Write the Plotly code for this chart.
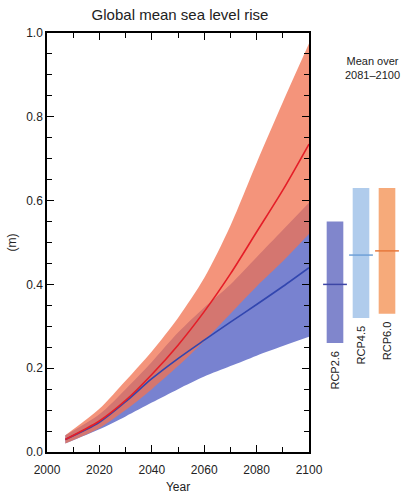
import plotly.graph_objects as go

years = [2007, 2020, 2030, 2040, 2050, 2060, 2070, 2080, 2090, 2100]
rcp85_mean = [0.03, 0.074, 0.123, 0.185, 0.255, 0.335, 0.425, 0.525, 0.625, 0.735]
rcp85_upper = [0.04, 0.103, 0.17, 0.24, 0.32, 0.415, 0.54, 0.69, 0.835, 0.975]
rcp85_lower = [0.02, 0.057, 0.10, 0.15, 0.205, 0.265, 0.33, 0.395, 0.455, 0.52]
rcp26_mean = [0.03, 0.071, 0.12, 0.175, 0.223, 0.267, 0.31, 0.352, 0.395, 0.44]
rcp26_upper = [0.04, 0.09, 0.15, 0.215, 0.285, 0.345, 0.40, 0.465, 0.53, 0.595]
rcp26_lower = [0.02, 0.054, 0.085, 0.118, 0.15, 0.18, 0.205, 0.23, 0.253, 0.275]

bar_labels = ["RCP2.6", "RCP4.5", "RCP6.0"]
bar_mean = [0.40, 0.47, 0.48]
bar_low = [0.26, 0.32, 0.33]
bar_high = [0.55, 0.63, 0.63]
bar_colors = ["rgb(128,134,204)", "rgb(176,204,236)", "rgb(246,170,122)"]
bar_line_colors = ["rgb(60,70,165)", "rgb(110,160,215)", "rgb(230,120,60)"]

FONT = "Liberation Sans, Arial, sans-serif"
TXT = "#222"

W, H = 403, 496
L, R, T, B = 47, 0, 33, 44
pw = W - L - R
ph = H - T - B

def px_x(px):
    return (px - L) / pw

def px_y(py):
    return (H - B - py) / ph

SPL = dict(shape="spline", smoothing=0.8)

fig = go.Figure()

# RCP2.6 band
fig.add_trace(go.Scatter(x=years, y=rcp26_lower, mode="lines", line=dict(width=0, **SPL),
                         showlegend=False, hoverinfo="skip"))
fig.add_trace(go.Scatter(x=years, y=rcp26_upper, mode="lines", line=dict(width=0, **SPL),
                         fill="tonexty", fillcolor="rgb(120,130,208)",
                         showlegend=False, hoverinfo="skip"))
# RCP8.5 band
fig.add_trace(go.Scatter(x=years, y=rcp85_lower, mode="lines", line=dict(width=0, **SPL),
                         showlegend=False, hoverinfo="skip"))
fig.add_trace(go.Scatter(x=years, y=rcp85_upper, mode="lines", line=dict(width=0, **SPL),
                         fill="tonexty", fillcolor="rgba(240,115,82,0.76)",
                         showlegend=False, hoverinfo="skip"))
# mean lines
fig.add_trace(go.Scatter(x=years, y=rcp26_mean, mode="lines",
                         line=dict(color="rgb(50,70,175)", width=1.6, **SPL),
                         showlegend=False))
fig.add_trace(go.Scatter(x=years, y=rcp85_mean, mode="lines",
                         line=dict(color="rgb(228,30,40)", width=1.6, **SPL),
                         showlegend=False))

# right-hand bars (mean over 2081-2100)
xi = list(range(len(bar_labels)))
fig.add_trace(go.Bar(x=xi, y=[h - l for h, l in zip(bar_high, bar_low)], base=bar_low,
                     marker=dict(color=bar_colors, line=dict(width=0)), width=0.64,
                     xaxis="x2", yaxis="y", showlegend=False))
fig.add_trace(go.Scatter(x=xi, y=bar_mean, mode="markers", xaxis="x2", yaxis="y",
                         marker=dict(symbol="line-ew-open", size=17, color=bar_line_colors,
                                     line=dict(color=bar_line_colors, width=1.5)),
                         showlegend=False))

for i, lab in enumerate(bar_labels):
    fig.add_annotation(x=i, y=bar_low[i], xref="x2", yref="y", text=lab, textangle=-90,
                       showarrow=False, xanchor="center", yanchor="top", yshift=-6,
                       font=dict(family=FONT, size=11, color=TXT))

fig.add_annotation(x=px_x(372), y=px_y(68), xref="paper", yref="paper",
                   text="Mean over<br>2081–2100", showarrow=False,
                   xanchor="center", yanchor="middle",
                   font=dict(family=FONT, size=11, color=TXT))

axis_common = dict(showline=True, linecolor="black", linewidth=1.5, mirror="ticks",
                   ticks="inside", tickcolor="black", tickwidth=1.3, ticklen=7,
                   showgrid=False, zeroline=False, automargin=False,
                   tickfont=dict(family=FONT, size=12, color=TXT))

fig.update_layout(
    width=W, height=H,
    margin=dict(l=L, r=R, t=T, b=B, autoexpand=False),
    paper_bgcolor="white", plot_bgcolor="white",
    title=dict(text="Global mean sea level rise", x=180 / W, xanchor="center",
               y=1 - 15 / H, yanchor="middle", font=dict(family=FONT, size=15, color=TXT)),
    xaxis=dict(domain=[0, px_x(309)], range=[2000, 2100], dtick=20, tick0=2000,
               ticklabelstandoff=6,
               minor=dict(ticks="inside", dtick=10, ticklen=5, tickcolor="black", tickwidth=1.2),
               title=dict(text="Year", standoff=6, font=dict(family=FONT, size=12, color=TXT)),
               **axis_common),
    yaxis=dict(range=[0, 1.0], dtick=0.2, tickformat=".1f",
               minor=dict(ticks="inside", dtick=0.05, ticklen=5, tickcolor="black", tickwidth=1.2),
               title=dict(text="(m)", standoff=7, font=dict(family=FONT, size=12, color=TXT)),
               **axis_common),
    xaxis2=dict(domain=[px_x(322), px_x(400)], range=[-0.5, 2.5], visible=False,
                anchor="y"),
    showlegend=False,
)

fig.write_html("out.html", config={"displayModeBar": False},
               post_script="document.body.style.margin='0';document.body.style.overflow='hidden';")
